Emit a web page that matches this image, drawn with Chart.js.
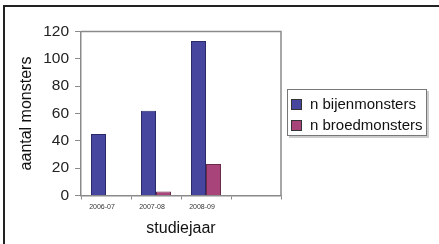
<!DOCTYPE html>
<html><head><meta charset="utf-8">
<script src="https://cdn.jsdelivr.net/npm/chart.js@4/dist/chart.umd.min.js"></script>
<style>
html,body{margin:0;padding:0;background:#fff;}
#wrap{position:relative;width:439px;height:244px;overflow:hidden;}
#frame{position:absolute;left:3px;top:5px;width:440px;height:250px;border-left:2px solid #222;border-top:2px solid #222;box-sizing:border-box;pointer-events:none;}
canvas{position:absolute;left:0;top:0;}
#legend{position:absolute;left:287px;top:89px;width:140px;height:47px;border:1px solid #777;box-shadow:2px 2px 0 #ccc;background:#fff;font-family:'Liberation Sans',Arial,sans-serif;font-size:15px;color:#111;box-sizing:border-box;}
.item{position:absolute;left:3px;height:20px;line-height:20px;white-space:nowrap;}
.sw{display:inline-block;width:9px;height:9px;border:1px solid #333;margin-right:8px;vertical-align:-1px;}
</style></head>
<body>
<div id="wrap">
<canvas id="c" width="439" height="244"></canvas>
<div id="frame"></div>
<div id="legend"></div>
</div>
<script>
const categories = ['2006-07', '2007-08', '2008-09', ''];
const seriesNames = ['n bijenmonsters', 'n broedmonsters'];
const bijenmonsters = [45, 62, 113, null];
const broedmonsters = [null, 3, 23, null];
const yTicks = [0, 20, 40, 60, 80, 100, 120];
const colors = ['#46469e', '#a8447a'];
const borders = ['#2a2a6a', '#6a2a4a'];

const frame = {
  id: 'plotFrame',
  afterDraw(chart) {
    const {ctx, chartArea: a} = chart;
    ctx.save();
    ctx.strokeStyle = '#8a8a8a';
    ctx.lineWidth = 1.5;
    ctx.beginPath();
    ctx.moveTo(a.left, a.top); ctx.lineTo(a.right, a.top); ctx.lineTo(a.right, a.bottom);
    ctx.stroke();
    ctx.restore();
  }
};

new Chart(document.getElementById('c'), {
  type: 'bar',
  data: {
    labels: categories,
    datasets: [
      {label: seriesNames[0], data: bijenmonsters, backgroundColor: colors[0], borderColor: borders[0], borderWidth: 1, categoryPercentage: 0.6, barPercentage: 1},
      {label: seriesNames[1], data: broedmonsters, backgroundColor: colors[1], borderColor: borders[1], borderWidth: 1, categoryPercentage: 0.6, barPercentage: 1}
    ]
  },
  options: {
    responsive: false,
    animation: false,
    layout: {padding: {left: 0, top: 31.5, right: 158, bottom: 0}},
    plugins: {legend: {display: false}, tooltip: {enabled: false}},
    scales: {
      x: {
        afterFit(s) { s.height = 48.5; },
        grid: {offset: true, drawOnChartArea: false, tickLength: 4, color: '#8a8a8a', lineWidth: 1},
        border: {color: '#8a8a8a', width: 1.5},
        ticks: {font: {family: "'Liberation Sans Narrow','Liberation Sans',Arial", size: 7}, color: '#333', padding: 3, labelOffset: -4, maxRotation: 0},
        title: {display: true, text: 'studiejaar', font: {family: "'Liberation Sans',Arial", size: 16}, color: '#111', padding: {top: 0, bottom: 5.4}}
      },
      y: {
        min: 0, max: 120,
        afterFit(s) { s.width = 81; },
        afterBuildTicks(s) { s.ticks = yTicks.map(v => ({value: v})); },
        grid: {drawOnChartArea: false, tickLength: 6, color: '#8a8a8a'},
        border: {color: '#8a8a8a', width: 1.5},
        ticks: {font: {family: "'Liberation Sans',Arial", size: 15.5}, color: '#222', padding: 6},
        title: {display: true, text: 'aantal monsters', font: {family: "'Liberation Sans',Arial", size: 16}, color: '#111', padding: {top: 17.4, bottom: 0}}
      }
    }
  },
  plugins: [frame]
});

const lg = document.getElementById('legend');
seriesNames.forEach((n, i) => {
  const d = document.createElement('div');
  d.className = 'item';
  d.style.top = (4 + i * 21) + 'px';
  d.innerHTML = '<span class="sw" style="background:' + colors[i] + '"></span>' + n;
  lg.appendChild(d);
});
</script>
</body></html>
